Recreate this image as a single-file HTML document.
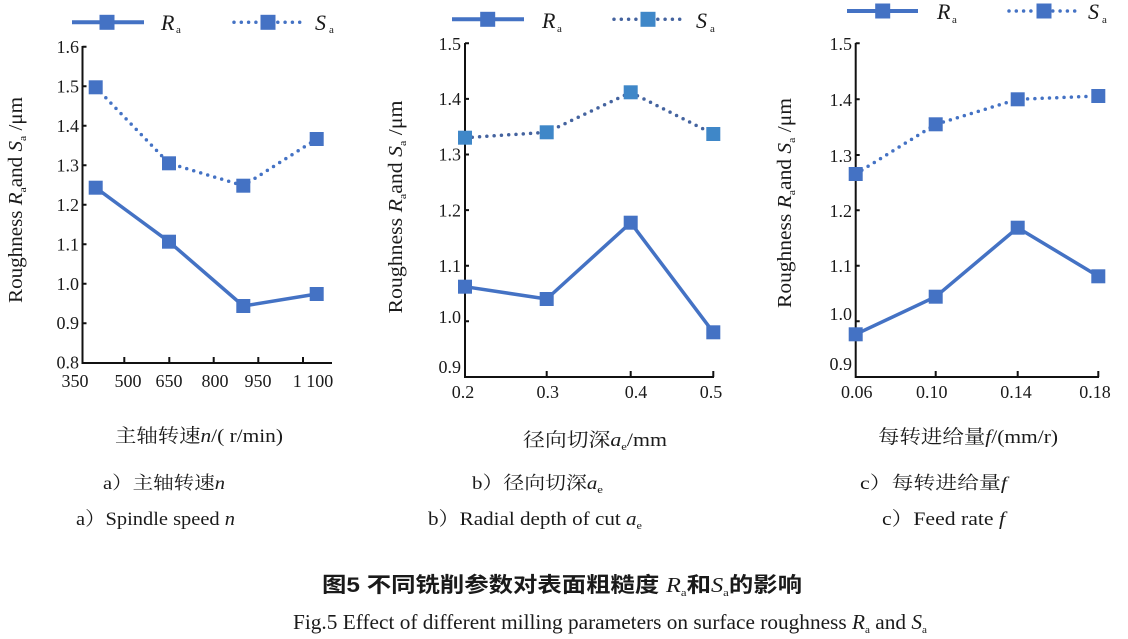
<!DOCTYPE html>
<html>
<head>
<meta charset="utf-8">
<style>
html,body{margin:0;padding:0;background:#fff;}
svg{display:block;}
</style>
</head>
<body>
<svg width="1128" height="639" viewBox="0 0 1128 639" xmlns="http://www.w3.org/2000/svg" font-family="'Liberation Serif','Noto Serif CJK SC',serif" fill="#1a1a1a">
<rect width="1128" height="639" fill="#fff"/>

<!-- ================= PANEL A ================= -->
<line x1="72" y1="22.3" x2="144" y2="22.3" stroke="#4472c4" stroke-width="4"/>
<rect x="99.5" y="14.8" width="15" height="15" fill="#4472c4"/>
<text x="161" y="30" font-size="22" font-style="italic">R</text>
<text x="176" y="33" font-size="11">a</text>
<line x1="234" y1="22.3" x2="300" y2="22.3" stroke="#4472c4" stroke-width="3.5" stroke-linecap="round" stroke-dasharray="0 7.3"/>
<rect x="260.5" y="14.8" width="15" height="15" fill="#4472c4"/>
<text x="315" y="30" font-size="22" font-style="italic">S</text>
<text x="329" y="33" font-size="11">a</text>

<path d="M82.5,46 V363 H332" stroke="#111" stroke-width="2" fill="none"/>
<path d="M82.5,46.7h4 M82.5,86.2h4 M82.5,125.7h4 M82.5,165.2h4 M82.5,204.7h4 M82.5,244.2h4 M82.5,283.7h4 M82.5,323.2h4" stroke="#111" stroke-width="2"/>
<path d="M124.3,363v-6 M169.3,363v-6 M213.7,363v-6 M258.3,363v-6 M303,363v-6" stroke="#111" stroke-width="2"/>
<g font-size="18" text-anchor="end">
<text x="79" y="53">1.6</text>
<text x="79" y="92.5">1.5</text>
<text x="79" y="132">1.4</text>
<text x="79" y="171.5">1.3</text>
<text x="79" y="211">1.2</text>
<text x="79" y="250.5">1.1</text>
<text x="79" y="290">1.0</text>
<text x="79" y="329">0.9</text>
<text x="79" y="368.5">0.8</text>
</g>
<g font-size="18" text-anchor="middle">
<text x="75" y="387">350</text>
<text x="128" y="387">500</text>
<text x="169" y="387">650</text>
<text x="215" y="387">800</text>
<text x="258" y="387">950</text>
<text x="313" y="387">1 100</text>
</g>
<text transform="translate(22,200) rotate(-90)" text-anchor="middle" font-size="20" textLength="206" lengthAdjust="spacingAndGlyphs">Roughness <tspan font-style="italic">R</tspan><tspan font-size="11" dy="4">a</tspan><tspan dy="-4">and </tspan><tspan font-style="italic">S</tspan><tspan font-size="11" dy="4">a</tspan><tspan dy="-4"> /μm</tspan></text>
<polyline points="95.7,87.3 169,163.3 243.3,185.7 316.7,139" fill="none" stroke="#4472c4" stroke-width="3.5" stroke-linecap="round" stroke-dasharray="0 7.3"/>
<polyline points="95.7,187.7 169,241.7 243.3,306 316.7,294" fill="none" stroke="#4472c4" stroke-width="3.5" stroke-linejoin="round"/>
<g fill="#4472c4">
<rect x="88.7" y="80.3" width="14" height="14"/>
<rect x="162" y="156.3" width="14" height="14"/>
<rect x="236.3" y="178.7" width="14" height="14"/>
<rect x="309.7" y="132" width="14" height="14"/>
<rect x="88.7" y="180.7" width="14" height="14"/>
<rect x="162" y="234.7" width="14" height="14"/>
<rect x="236.3" y="299" width="14" height="14"/>
<rect x="309.7" y="287" width="14" height="14"/>
</g>
<text x="115" y="442" font-size="19" textLength="168" lengthAdjust="spacingAndGlyphs">主轴转速<tspan font-style="italic">n</tspan>/( r/min)</text>
<text x="103" y="489" font-size="18" textLength="122" lengthAdjust="spacingAndGlyphs">a）主轴转速<tspan font-style="italic">n</tspan></text>
<text x="76" y="525" font-size="19" textLength="159" lengthAdjust="spacingAndGlyphs">a）Spindle speed <tspan font-style="italic">n</tspan></text>

<!-- ================= PANEL B ================= -->
<line x1="452" y1="19.3" x2="524" y2="19.3" stroke="#4472c4" stroke-width="4"/>
<rect x="480.2" y="11.8" width="15" height="15" fill="#4472c4"/>
<text x="542" y="28" font-size="22" font-style="italic">R</text>
<text x="557" y="32" font-size="11">a</text>
<line x1="614" y1="19.3" x2="682" y2="19.3" stroke="#44639f" stroke-width="3.5" stroke-linecap="round" stroke-dasharray="0 7.3"/>
<rect x="640.5" y="11.8" width="15" height="15" fill="#3f87c8"/>
<text x="696" y="28" font-size="22" font-style="italic">S</text>
<text x="710" y="32" font-size="11">a</text>

<path d="M465,43 V377 H714" stroke="#111" stroke-width="2" fill="none"/>
<path d="M465,43.3h4 M465,98.9h4 M465,154.5h4 M465,210.1h4 M465,265.7h4 M465,321.3h4" stroke="#111" stroke-width="2"/>
<path d="M546.7,377v-6 M630.7,377v-6 M713.3,377v-6" stroke="#111" stroke-width="2"/>
<g font-size="18" text-anchor="end">
<text x="461" y="50">1.5</text>
<text x="461" y="105">1.4</text>
<text x="461" y="160.5">1.3</text>
<text x="461" y="216.5">1.2</text>
<text x="461" y="272">1.1</text>
<text x="461" y="323">1.0</text>
<text x="461" y="373">0.9</text>
</g>
<g font-size="18" text-anchor="middle">
<text x="463" y="398">0.2</text>
<text x="547.7" y="398">0.3</text>
<text x="636" y="398">0.4</text>
<text x="711" y="398">0.5</text>
</g>
<text transform="translate(402,207) rotate(-90)" text-anchor="middle" font-size="20" textLength="213" lengthAdjust="spacingAndGlyphs">Roughness <tspan font-style="italic">R</tspan><tspan font-size="11" dy="4">a</tspan><tspan dy="-4">and </tspan><tspan font-style="italic">S</tspan><tspan font-size="11" dy="4">a</tspan><tspan dy="-4"> /μm</tspan></text>
<polyline points="465,137.7 546.7,132.3 630.7,92.3 713.3,134" fill="none" stroke="#44639f" stroke-width="3.5" stroke-linecap="round" stroke-dasharray="0 7.3"/>
<polyline points="465,286.7 546.7,299 630.7,222.7 713.3,332.3" fill="none" stroke="#4472c4" stroke-width="3.5" stroke-linejoin="round"/>
<g fill="#3f87c8">
<rect x="458" y="130.7" width="14" height="14"/>
<rect x="539.7" y="125.3" width="14" height="14"/>
<rect x="623.7" y="85.3" width="14" height="14"/>
<rect x="706.3" y="127" width="14" height="14"/>
</g>
<g fill="#4472c4">
<rect x="458" y="279.7" width="14" height="14"/>
<rect x="539.7" y="292" width="14" height="14"/>
<rect x="623.7" y="215.7" width="14" height="14"/>
<rect x="706.3" y="325.3" width="14" height="14"/>
</g>
<text x="523" y="446" font-size="19" textLength="144" lengthAdjust="spacingAndGlyphs">径向切深<tspan font-style="italic">a</tspan><tspan font-size="11" dy="4">e</tspan><tspan dy="-4">/mm</tspan></text>
<text x="472" y="489" font-size="18" textLength="131" lengthAdjust="spacingAndGlyphs">b）径向切深<tspan font-style="italic">a</tspan><tspan font-size="11" dy="4">e</tspan></text>
<text x="428" y="525" font-size="19" textLength="214" lengthAdjust="spacingAndGlyphs">b）Radial depth of cut <tspan font-style="italic">a</tspan><tspan font-size="11" dy="4">e</tspan></text>

<!-- ================= PANEL C ================= -->
<line x1="847" y1="11" x2="918" y2="11" stroke="#4472c4" stroke-width="4"/>
<rect x="875.2" y="3.5" width="15" height="15" fill="#4472c4"/>
<text x="937" y="19" font-size="22" font-style="italic">R</text>
<text x="952" y="23" font-size="11">a</text>
<line x1="1009" y1="11" x2="1078" y2="11" stroke="#4472c4" stroke-width="3.5" stroke-linecap="round" stroke-dasharray="0 7.3"/>
<rect x="1036.5" y="3.5" width="15" height="15" fill="#4472c4"/>
<text x="1088" y="19" font-size="22" font-style="italic">S</text>
<text x="1102" y="23" font-size="11">a</text>

<path d="M855.7,43 V377 H1099" stroke="#111" stroke-width="2" fill="none"/>
<path d="M855.7,43.3h4 M855.7,99.3h4 M855.7,155h4 M855.7,210.3h4 M855.7,265.7h4 M855.7,321.3h4" stroke="#111" stroke-width="2"/>
<path d="M935.7,377v-6 M1017.7,377v-6 M1098.3,377v-6" stroke="#111" stroke-width="2"/>
<g font-size="18" text-anchor="end">
<text x="852" y="50">1.5</text>
<text x="852" y="106">1.4</text>
<text x="852" y="162">1.3</text>
<text x="852" y="217">1.2</text>
<text x="852" y="272">1.1</text>
<text x="852" y="320">1.0</text>
<text x="852" y="370">0.9</text>
</g>
<g font-size="18" text-anchor="middle">
<text x="856.7" y="398">0.06</text>
<text x="931.7" y="398">0.10</text>
<text x="1016" y="398">0.14</text>
<text x="1095" y="398">0.18</text>
</g>
<text transform="translate(791,203) rotate(-90)" text-anchor="middle" font-size="20" textLength="210" lengthAdjust="spacingAndGlyphs">Roughness <tspan font-style="italic">R</tspan><tspan font-size="11" dy="4">a</tspan><tspan dy="-4">and </tspan><tspan font-style="italic">S</tspan><tspan font-size="11" dy="4">a</tspan><tspan dy="-4"> /μm</tspan></text>
<polyline points="855.7,174 935.7,124.3 1017.7,99.3 1098.3,96" fill="none" stroke="#4472c4" stroke-width="3.5" stroke-linecap="round" stroke-dasharray="0 7.3"/>
<polyline points="855.7,334.3 935.7,296.7 1017.7,227.7 1098.3,276.3" fill="none" stroke="#4472c4" stroke-width="3.5" stroke-linejoin="round"/>
<g fill="#4472c4">
<rect x="848.7" y="167" width="14" height="14"/>
<rect x="928.7" y="117.3" width="14" height="14"/>
<rect x="1010.7" y="92.3" width="14" height="14"/>
<rect x="1091.3" y="89" width="14" height="14"/>
<rect x="848.7" y="327.3" width="14" height="14"/>
<rect x="928.7" y="289.7" width="14" height="14"/>
<rect x="1010.7" y="220.7" width="14" height="14"/>
<rect x="1091.3" y="269.3" width="14" height="14"/>
</g>
<text x="878" y="443" font-size="19" textLength="180" lengthAdjust="spacingAndGlyphs">每转进给量<tspan font-style="italic">f</tspan>/(mm/r)</text>
<text x="860" y="489" font-size="18" textLength="147" lengthAdjust="spacingAndGlyphs">c）每转进给量<tspan font-style="italic">f</tspan></text>
<text x="882" y="525" font-size="19" textLength="123" lengthAdjust="spacingAndGlyphs">c）Feed rate  <tspan font-style="italic">f</tspan></text>

<!-- ================= FIGURE TITLE ================= -->
<text x="322" y="592" font-size="21" font-weight="bold" font-family="'Liberation Sans','Noto Sans CJK SC',sans-serif" textLength="480" lengthAdjust="spacingAndGlyphs">图5  不同铣削参数对表面粗糙度 <tspan font-family="'Liberation Serif',serif" font-style="italic" font-weight="normal">R</tspan><tspan font-family="'Liberation Serif',serif" font-weight="normal" font-size="11" dy="4">a</tspan><tspan dy="-4">和</tspan><tspan font-family="'Liberation Serif',serif" font-style="italic" font-weight="normal">S</tspan><tspan font-family="'Liberation Serif',serif" font-weight="normal" font-size="11" dy="4">a</tspan><tspan dy="-4">的影响</tspan></text>
<text x="293" y="629" font-size="21" textLength="634" lengthAdjust="spacingAndGlyphs">Fig.5  Effect of different milling parameters on surface roughness <tspan font-style="italic">R</tspan><tspan font-size="11" dy="4">a</tspan><tspan dy="-4"> and </tspan><tspan font-style="italic">S</tspan><tspan font-size="11" dy="4">a</tspan></text>
</svg>
</body>
</html>
